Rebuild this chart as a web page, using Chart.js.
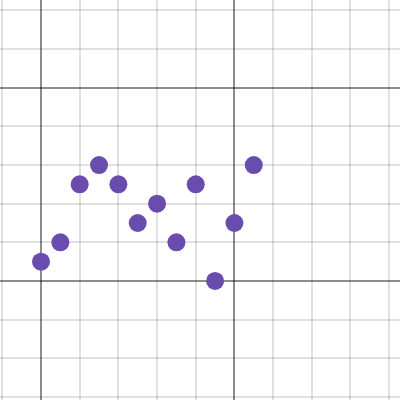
<!DOCTYPE html>
<html>
<head>
<meta charset="utf-8">
<script src="https://cdn.jsdelivr.net/npm/chart.js@4"></script>
<style>
  body { margin: 0; background: #fff; }
  canvas { display: block; }
</style>
</head>
<body>
<canvas id="scatter-chart" width="400" height="400"></canvas>
<script>
// puntos del grafico
const puntosX = [0, 0.5, 1, 1.5, 2, 2.5, 3, 3.5, 4, 4.5, 5, 5.5]
const puntosY = [0.5, 1, 2.5, 3, 2.5, 1.5, 2, 1, 2.5, 0, 1.5, 3]

// lineas de la cuadricula
const ticksX = [-1, 0, 1, 2, 3, 4, 5, 6, 7, 8, 9]
const ticksY = [-3, -2, -1, 0, 1, 2, 3, 4, 5, 6, 7]

const colorGrid = (ctx) =>
  ctx.tick && ctx.tick.value % 5 === 0 ? "rgba(0,0,0,0.45)" : "rgba(0,0,0,0.12)"

const eje = (min, max, lista) => ({
  type: "linear",
  min: min,
  max: max,
  afterBuildTicks: (scale) => {
    scale.ticks = lista.map((v) => ({ value: v }))
  },
  ticks: { display: false },
  border: { display: false },
  grid: { color: colorGrid, lineWidth: 2, drawTicks: false }
})

const containerScatterChart = document
  .querySelector("#scatter-chart")
  .getContext("2d")

const configScatter = {
  type: "scatter",
  data: {
    datasets: [{
      data: puntosX.map((x, i) => ({ x: x, y: puntosY[i] })),
      backgroundColor: "#6a4cae",
      borderWidth: 0,
      pointRadius: 9,
      pointHoverRadius: 9
    }]
  },
  options: {
    responsive: false,
    animation: false,
    layout: { padding: 0, autoPadding: false },
    plugins: { legend: { display: false }, tooltip: { enabled: false } },
    scales: {
      x: eje(-1.06, 9.28, ticksX),
      y: eje(-3.08, 7.27, ticksY)
    }
  }
}

const scatterChart = new Chart(containerScatterChart, configScatter)
</script>
</body>
</html>
